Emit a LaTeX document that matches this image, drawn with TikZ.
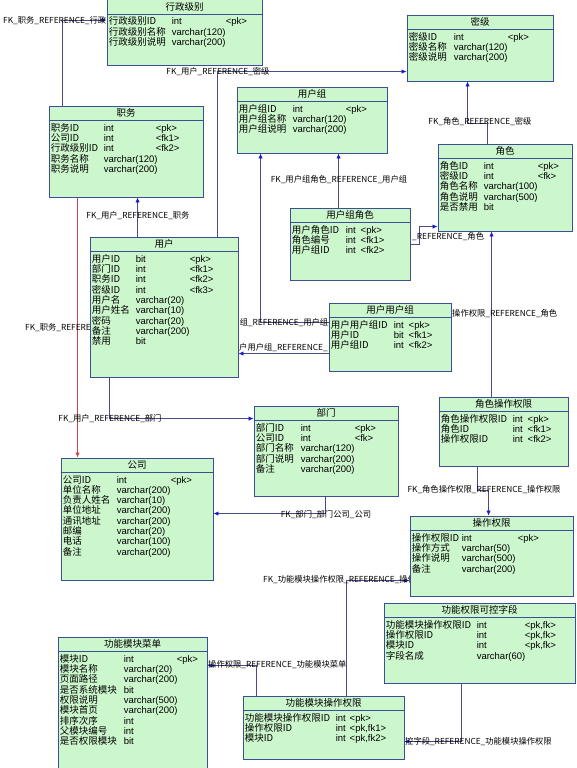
\documentclass[tikz,border=0pt]{standalone}
\usepackage{fontspec}
\setmainfont{Noto Sans CJK SC}
\newfontfamily\latinfont{Liberation Sans}
\usepackage{tikz}
\usetikzlibrary{arrows.meta,fit,backgrounds}
\definecolor{tblfill}{HTML}{CCF6CC}
\definecolor{tbledge}{HTML}{3C4E96}
\definecolor{fkline}{HTML}{4A4A86}
\definecolor{fktip}{HTML}{1A1ACC}
\definecolor{fkred}{HTML}{C84646}
\newdimen\cola
\newdimen\colb
\newcommand{\fld}[3]{\hbox{\hbox to\cola{#1\hfil}\hbox to\colb{\latinfont #2\hfil}\latinfont #3}}
% one table: name, corner, opposite corner, title, column widths, rows
\newcommand{\tbl}[7]{%
  \node[tblbox,fit={#2 #3}] (#1) {};
  \node[tblhead] at ([yshift=-7.5pt]#1.north) {#4};
  \draw[tbledge] ([yshift=-15pt]#1.north west) -- ([yshift=-15pt]#1.north east);
  \cola=#5pt\relax\colb=#6pt\relax
  \node[tblrows] at ([xshift=2pt,yshift=-17.5pt]#1.north west) {\vtop{\baselineskip=10.3pt\lineskiplimit=-20pt\relax #7}};
}
\begin{document}
\begin{tikzpicture}[x=1pt,y=-1pt,
  tblbox/.style={draw=tbledge,fill=tblfill,line width=0.9pt,inner sep=0pt},
  tblhead/.style={font=\fontsize{9.5}{10}\selectfont,inner sep=0pt},
  tblrows/.style={anchor=north west,inner sep=0pt,font=\fontsize{9.5}{10.3}\selectfont},
  fk/.style={draw=fkline,line width=0.8pt,-{Latex[length=5pt,width=4.5pt,color=fktip]}},
  fkred/.style={draw=fkred,line width=0.8pt,-{Latex[length=5pt,width=4.5pt]}},
  fklabel/.style={font=\fontsize{8.3}{9}\selectfont,inner sep=0pt}]
\useasboundingbox (0,0) rectangle (576,768);
\tbl{xzjb}{(107,-0.5)}{(262,65)}{行政级别}{63}{54}{%
  \fld{行政级别ID}{int}{<pk>}\fld{行政级别名称}{varchar(120)}{}\fld{行政级别说明}{varchar(200)}{}}
\tbl{miji}{(407,15)}{(553,81)}{密级}{45}{54}{%
  \fld{密级ID}{int}{<pk>}\fld{密级名称}{varchar(120)}{}\fld{密级说明}{varchar(200)}{}}
\tbl{zhiwu}{(49,106)}{(203,197)}{职务}{53}{52}{%
  \fld{职务ID}{int}{<pk>}\fld{公司ID}{int}{<fk1>}\fld{行政级别ID}{int}{<fk2>}
  \fld{职务名称}{varchar(120)}{}\fld{职务说明}{varchar(200)}{}}
\tbl{yhz}{(237,87)}{(387,153)}{用户组}{54}{53}{%
  \fld{用户组ID}{int}{<pk>}\fld{用户组名称}{varchar(120)}{}\fld{用户组说明}{varchar(200)}{}}
\tbl{juese}{(438,144)}{(572,231)}{角色}{44}{54}{%
  \fld{角色ID}{int}{<pk>}\fld{密级ID}{int}{<fk>}\fld{角色名称}{varchar(100)}{}
  \fld{角色说明}{varchar(500)}{}\fld{是否禁用}{bit}{}}
\tbl{yhzjs}{(290,208)}{(410,280)}{用户组角色}{54}{15}{%
  \fld{用户角色ID}{int}{<pk>}\fld{角色编号}{int}{<fk1>}\fld{用户组ID}{int}{<fk2>}}
\tbl{yonghu}{(90,237)}{(238,377)}{用户}{44}{54}{%
  \fld{用户ID}{bit}{<pk>}\fld{部门ID}{int}{<fk1>}\fld{职务ID}{int}{<fk2>}\fld{密级ID}{int}{<fk3>}
  \fld{用户名}{varchar(20)}{}\fld{用户姓名}{varchar(10)}{}\fld{密码}{varchar(20)}{}
  \fld{备注}{varchar(200)}{}\fld{禁用}{bit}{}}
\tbl{yhyhz}{(329,303)}{(451,371)}{用户用户组}{63}{15}{%
  \fld{用户用户组ID}{int}{<pk>}\fld{用户ID}{bit}{<fk1>}\fld{用户组ID}{int}{<fk2>}}
\tbl{jsczqx}{(439,397)}{(568,466)}{角色操作权限}{72}{15}{%
  \fld{角色操作权限ID}{int}{<pk>}\fld{角色ID}{int}{<fk1>}\fld{操作权限ID}{int}{<fk2>}}
\tbl{bumen}{(254,406)}{(398,496)}{部门}{45}{54}{%
  \fld{部门ID}{int}{<pk>}\fld{公司ID}{int}{<fk>}\fld{部门名称}{varchar(120)}{}
  \fld{部门说明}{varchar(200)}{}\fld{备注}{varchar(200)}{}}
\tbl{gongsi}{(61,458)}{(213,580)}{公司}{54}{54}{%
  \fld{公司ID}{int}{<pk>}\fld{单位名称}{varchar(200)}{}\fld{负责人姓名}{varchar(10)}{}
  \fld{单位地址}{varchar(200)}{}\fld{通讯地址}{varchar(200)}{}\fld{邮编}{varchar(20)}{}
  \fld{电话}{varchar(100)}{}\fld{备注}{varchar(200)}{}}
\tbl{czqx}{(410,516)}{(573,596)}{操作权限}{50}{56}{%
  \fld{操作权限ID}{int}{<pk>}\fld{操作方式}{varchar(50)}{}\fld{操作说明}{varchar(500)}{}
  \fld{备注}{varchar(200)}{}}
\tbl{gnqxkkzd}{(384,603)}{(575,683)}{功能权限可控字段}{91}{48}{%
  \fld{功能模块操作权限ID}{int}{<pk,fk>}\fld{操作权限ID}{int}{<pk,fk>}\fld{模块ID}{int}{<pk,fk>}
  \fld{字段名成}{varchar(60)}{}}
\tbl{gnmkcd}{(58,637)}{(207,772)}{功能模块菜单}{64}{53}{%
  \fld{模块ID}{int}{<pk>}\fld{模块名称}{varchar(20)}{}\fld{页面路径}{varchar(200)}{}
  \fld{是否系统模块}{bit}{}\fld{权限说明}{varchar(500)}{}\fld{模块首页}{varchar(200)}{}
  \fld{排序次序}{int}{}\fld{父模块编号}{int}{}\fld{是否权限模块}{bit}{}}
\tbl{gnmkczqx}{(243,696)}{(404,759)}{功能模块操作权限}{91}{14}{%
  \fld{功能模块操作权限ID}{int}{<pk>}\fld{操作权限ID}{int}{<pk,fk1>}\fld{模块ID}{int}{<pk,fk2>}}
\begin{scope}[on background layer]
\fill[white] (0,0) rectangle (576,768);
% references
\draw[fk] ([xshift=14pt]zhiwu.north west) |- ([yshift=-21pt]xzjb.north west);
\draw[fk] ([xshift=128pt]yonghu.north west) |- ([yshift=-57pt]miji.north west);
\draw[fk] ([xshift=48pt]yonghu.north west) -- ([xshift=48pt]yonghu.north west |- zhiwu.south);
\draw[fkred] ([xshift=29pt]zhiwu.south west) -- ([xshift=29pt]zhiwu.south west |- gongsi.north);
\draw[fk] ([xshift=20pt]yonghu.south west) |- ([yshift=-13pt]bumen.north west);
\draw[fk] ([xshift=72pt]bumen.south west) |- ([yshift=-56pt]gongsi.north east);
\draw[fk] ([xshift=49pt]yhzjs.north west) -- ([xshift=49pt]yhzjs.north west |- yhz.south);
\draw[fk] ([yshift=-37pt]yhzjs.north east) -- ++(9,0) |- ([yshift=-83pt]juese.north west);
\draw[fk] ([yshift=-20pt]yhyhz.north west) -| ([xshift=24pt]yhz.south west);
\draw[fk] ([yshift=-51pt]yhyhz.north west) -- ([yshift=-51pt]yhyhz.north west -| yonghu.east);
\draw[fk] ([xshift=53pt]jsczqx.north west) -- ([xshift=53pt]jsczqx.north west |- juese.south);
\draw[fk] ([xshift=50pt]juese.north west) -- ++(0,-20) -| ([xshift=61pt]miji.south west);
\draw[fk] ([xshift=39pt]jsczqx.south west) -- ++(0,24) -| ([xshift=79pt]czqx.north west);
\draw[fk] ([xshift=104pt]gnmkczqx.north west) |- ([yshift=-65pt]czqx.north west);
\draw[fk] ([xshift=14pt]gnmkczqx.north west) |- ([yshift=-29pt]gnmkcd.north east);
\draw[fk] ([xshift=78pt]gnqxkkzd.south west) |- ([yshift=-46pt]gnmkczqx.north east);
% reference names, as far as the tables leave them visible
\node[fklabel,anchor=west] (lxzjb) at (3,21) {FK\_职务\_REFERENCE\_行政};
\node[fklabel] (lmiji) at (218,72) {FK\_用户\_REFERENCE\_密级};
\node[fklabel] (lzhiwu) at (138,216) {FK\_用户\_REFERENCE\_职务};
\node[fklabel,anchor=west] (lgongsi) at (25,328) {FK\_职务\_REFERE};
\node[fklabel] (lbumen) at (110,419) {FK\_用户\_REFERENCE\_部门};
\node[fklabel] (lbmgs) at (326,515) {FK\_部门\_部门公司\_公司};
\node[fklabel] (lyhzjs) at (339,180) {FK\_用户组角色\_REFERENCE\_用户组};
\node[fklabel,anchor=west] (lyhzjsjs) at (412,237) {\_REFERENCE\_角色};
\node[fklabel] (lyhyhz) at (284,323) {组\_REFERENCE\_用户组};
\node[fklabel,anchor=west] (lyhyhzyh) at (239,348) {户用户组\_REFERENCE\_};
\node[fklabel,anchor=west] (ljsczqx) at (452,314) {操作权限\_REFERENCE\_角色};
\node[fklabel] (ljsmj) at (480,122) {FK\_角色\_REFERENCE\_密级};
\node[fklabel] (lczqx) at (484,490) {FK\_角色操作权限\_REFERENCE\_操作权限};
\node[fklabel,anchor=west] (lgnczqx) at (263,580) {FK\_功能模块操作权限\_REFERENCE\_操作};
\node[fklabel,anchor=west] (lgncd) at (208,665) {操作权限\_REFERENCE\_功能模块菜单};
\node[fklabel,anchor=west] (lkkzd) at (405,742) {控字段\_REFERENCE\_功能模块操作权限};
\end{scope}
\end{tikzpicture}
\end{document}
